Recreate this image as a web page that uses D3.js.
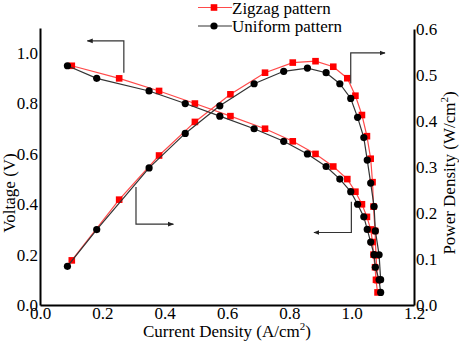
<!DOCTYPE html>
<html>
<head>
<meta charset="utf-8">
<script src="https://cdn.jsdelivr.net/npm/d3@7"></script>
<style>
    body { margin: 0; background: #fff; }
    svg { display: block; }
    svg text { font-family: "Liberation Serif", "Tinos", "DejaVu Serif", serif; }
</style>
</head>
<body>
<svg id="chart" width="459" height="342"></svg>
<script>
const zigzagCurrent = [0.102, 0.254, 0.382, 0.497, 0.611, 0.722, 0.811, 0.884, 0.941, 0.986, 1.012, 1.033, 1.049, 1.061, 1.067, 1.070, 1.075, 1.078, 1.083];
const zigzagVoltage = [0.95, 0.90, 0.85, 0.80, 0.75, 0.70, 0.65, 0.60, 0.55, 0.50, 0.45, 0.40, 0.35, 0.30, 0.25, 0.20, 0.15, 0.10, 0.05];
const zigzagPower = [0.097, 0.229, 0.325, 0.398, 0.458, 0.505, 0.527, 0.530, 0.518, 0.493, 0.455, 0.413, 0.367, 0.318, 0.267, 0.214, 0.161, 0.108, 0.054];

const uniformCurrent = [0.088, 0.182, 0.350, 0.466, 0.577, 0.687, 0.782, 0.858, 0.918, 0.962, 0.997, 1.019, 1.039, 1.050, 1.061, 1.072, 1.076, 1.088, 1.093];
const uniformVoltage = [0.95, 0.90, 0.85, 0.80, 0.75, 0.70, 0.65, 0.60, 0.55, 0.50, 0.45, 0.40, 0.35, 0.30, 0.25, 0.20, 0.15, 0.10, 0.05];
const uniformPower = [0.084, 0.164, 0.298, 0.373, 0.433, 0.481, 0.508, 0.515, 0.505, 0.481, 0.449, 0.408, 0.364, 0.315, 0.265, 0.214, 0.161, 0.109, 0.055];

const xTicks = [0, 0.2, 0.4, 0.6, 0.8, 1.0, 1.2];
const voltageTicks = [0, 0.2, 0.4, 0.6, 0.8, 1.0];
const powerTicks = [0, 0.1, 0.2, 0.3, 0.4, 0.5, 0.6];

// annotation arrows in data units (current, voltage scale)
const arrows = [
    { x: 0.269, from: 0.922, to: 1.049, end: 0.152 },
    { x: 0.308, from: 0.469, to: 0.321, end: 0.428 },
    { x: 0.997, from: 0.880, to: 1.001, end: 1.107 },
    { x: 0.999, from: 0.410, to: 0.288, end: 0.879 },
];

const FONT = '"Liberation Serif", "Tinos", "DejaVu Serif", serif';

const svg = d3.select('#chart');

const x = d3.scaleLinear().domain([0, 1.2]).range([40, 414]);
const yV = d3.scaleLinear().domain([0, 1.1]).range([305, 28]);
const yP = d3.scaleLinear().domain([0, 0.6]).range([305, 29]);
const fmt = d3.format('.1f');

function styleAxis(g) {
    g.attr('font-family', FONT).attr('font-size', 17);
    g.select('.domain').attr('stroke', '#000').attr('stroke-width', 2);
    g.selectAll('text').attr('fill', '#000');
}

svg.append('g')
    .attr('transform', 'translate(0,305)')
    .call(d3.axisBottom(x).tickValues(xTicks).tickFormat(fmt).tickSize(0).tickPadding(2))
    .call(styleAxis);

svg.append('g')
    .attr('transform', 'translate(40,0)')
    .call(d3.axisLeft(yV).tickValues(voltageTicks).tickFormat(fmt).tickSize(0).tickPadding(2))
    .call(styleAxis);

svg.append('g')
    .attr('transform', 'translate(414,0)')
    .call(d3.axisRight(yP).tickValues(powerTicks).tickFormat(fmt).tickSize(0).tickPadding(2))
    .call(styleAxis);

// axis titles
const xTitle = svg.append('text')
    .attr('x', 227).attr('y', 337)
    .attr('text-anchor', 'middle')
    .attr('font-family', FONT)
    .attr('font-size', 17);
xTitle.append('tspan').text('Current Density (A/cm');
xTitle.append('tspan').attr('dy', -7).attr('font-size', 11).text('2');
xTitle.append('tspan').attr('dy', 7).text(')');

svg.append('text')
    .attr('transform', 'translate(15,193) rotate(-90)')
    .attr('text-anchor', 'middle')
    .attr('font-family', FONT)
    .attr('font-size', 17)
    .text('Voltage (V)');

const pTitle = svg.append('text')
    .attr('transform', 'translate(455,173) rotate(-90)')
    .attr('text-anchor', 'middle')
    .attr('font-family', FONT)
    .attr('font-size', 17);
pTitle.append('tspan').text('Power Density (W/cm');
pTitle.append('tspan').attr('dy', -7).attr('font-size', 11).text('2');
pTitle.append('tspan').attr('dy', 7).text(')');

// series
const series = [
    { name: 'Zigzag pattern', current: zigzagCurrent, voltage: zigzagVoltage, power: zigzagPower,
      line: '#ff4a4a', marker: '#ff0000', shape: 'square' },
    { name: 'Uniform pattern', current: uniformCurrent, voltage: uniformVoltage, power: uniformPower,
      line: '#333333', marker: '#000000', shape: 'circle' },
];

function drawMarkers(g, pts, s) {
    if (s.shape === 'square') {
        g.selectAll('rect.m')
            .data(pts)
            .join('rect')
            .attr('class', 'm')
            .attr('x', (d) => d[0] - 3.3)
            .attr('y', (d) => d[1] - 3.3)
            .attr('width', 6.6)
            .attr('height', 6.6)
            .attr('fill', s.marker);
    } else {
        g.selectAll('circle.m')
            .data(pts)
            .join('circle')
            .attr('class', 'm')
            .attr('cx', (d) => d[0])
            .attr('cy', (d) => d[1])
            .attr('r', 3.6)
            .attr('fill', s.marker);
    }
}

const line = d3.line();

series.forEach((s) => {
    const g = svg.append('g');
    const vPts = s.current.map((c, i) => [x(c), yV(s.voltage[i])]);
    const pPts = s.current.map((c, i) => [x(c), yP(s.power[i])]);

    [vPts, pPts].forEach((pts) => {
        g.append('path')
            .attr('d', line(pts))
            .attr('fill', 'none')
            .attr('stroke', s.line)
            .attr('stroke-width', 1.2);
    });
    drawMarkers(g.append('g'), vPts, s);
    drawMarkers(g.append('g'), pPts, s);
});

// arrows
const defs = svg.append('defs');
defs.append('marker')
    .attr('id', 'arrowhead')
    .attr('viewBox', '0 0 10 10')
    .attr('refX', 9).attr('refY', 5)
    .attr('markerWidth', 6).attr('markerHeight', 6)
    .attr('markerUnits', 'userSpaceOnUse')
    .attr('orient', 'auto')
    .append('path')
    .attr('d', 'M0,1 L10,5 L0,9 Z')
    .attr('fill', '#222');

svg.append('g')
    .selectAll('path')
    .data(arrows)
    .join('path')
    .attr('d', (a) => `M${x(a.x)},${yV(a.from)} L${x(a.x)},${yV(a.to)} L${x(a.end)},${yV(a.to)}`)
    .attr('fill', 'none')
    .attr('stroke', '#333')
    .attr('stroke-width', 1.2)
    .attr('marker-end', 'url(#arrowhead)');

// legend
const legend = svg.append('g');
series.forEach((s, i) => {
    const ly = 7.5 + i * 18.5;
    const row = legend.append('g');
    row.append('line')
        .attr('x1', 198).attr('x2', 232)
        .attr('y1', ly).attr('y2', ly)
        .attr('stroke', s.line).attr('stroke-width', 1.2);
    drawMarkers(row, [[214, ly]], s);
    row.append('text')
        .attr('x', 232).attr('y', ly + 6)
        .attr('font-family', FONT)
        .attr('font-size', 17)
        .text(s.name);
});
</script>
</body>
</html>
